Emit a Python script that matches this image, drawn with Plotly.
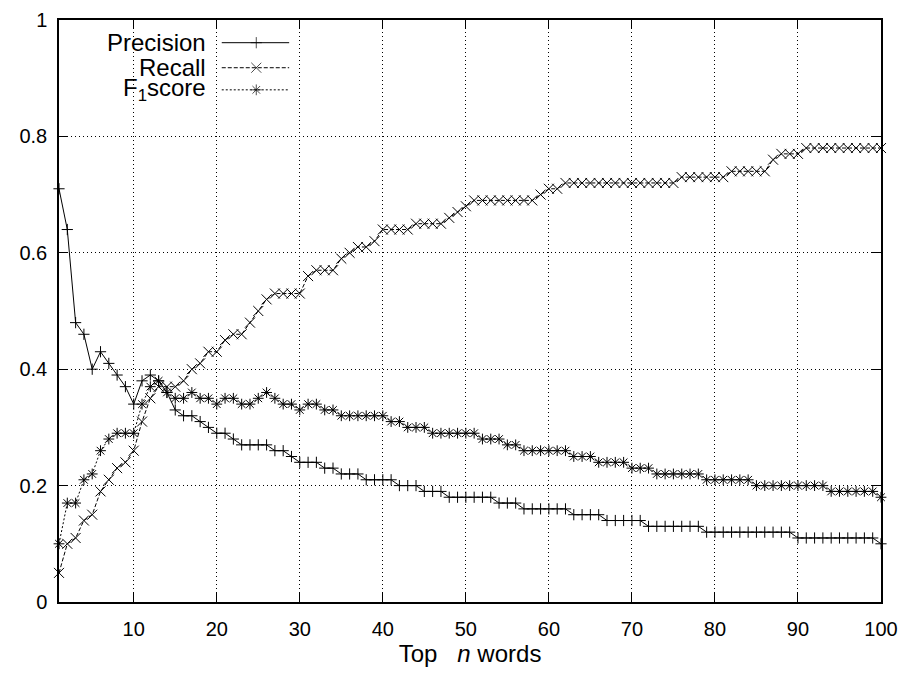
import plotly.graph_objects as go

# ---------------- data ----------------
n_words = list(range(1, 101))

precision = [
    0.71, 0.64, 0.48, 0.46, 0.40, 0.43, 0.41, 0.39, 0.37, 0.34,
    0.38, 0.39, 0.38, 0.36, 0.33, 0.32, 0.32, 0.31, 0.30, 0.29,
    0.29, 0.28, 0.27, 0.27, 0.27, 0.27, 0.26, 0.26, 0.25, 0.24,
    0.24, 0.24, 0.23, 0.23, 0.22, 0.22, 0.22, 0.21, 0.21, 0.21,
    0.21, 0.20, 0.20, 0.20, 0.19, 0.19, 0.19, 0.18, 0.18, 0.18,
    0.18, 0.18, 0.18, 0.17, 0.17, 0.17, 0.16, 0.16, 0.16, 0.16,
    0.16, 0.16, 0.15, 0.15, 0.15, 0.15, 0.14, 0.14, 0.14, 0.14,
    0.14, 0.13, 0.13, 0.13, 0.13, 0.13, 0.13, 0.13, 0.12, 0.12,
    0.12, 0.12, 0.12, 0.12, 0.12, 0.12, 0.12, 0.12, 0.12, 0.11,
    0.11, 0.11, 0.11, 0.11, 0.11, 0.11, 0.11, 0.11, 0.11, 0.10,
]

recall = [
    0.05, 0.10, 0.11, 0.14, 0.15, 0.19, 0.21, 0.23, 0.24, 0.26,
    0.31, 0.35, 0.37, 0.37, 0.37, 0.38, 0.40, 0.41, 0.43, 0.43,
    0.45, 0.46, 0.46, 0.48, 0.50, 0.52, 0.53, 0.53, 0.53, 0.53,
    0.56, 0.57, 0.57, 0.57, 0.59, 0.60, 0.61, 0.61, 0.62, 0.64,
    0.64, 0.64, 0.64, 0.65, 0.65, 0.65, 0.65, 0.66, 0.67, 0.68,
    0.69, 0.69, 0.69, 0.69, 0.69, 0.69, 0.69, 0.69, 0.70, 0.71,
    0.71, 0.72, 0.72, 0.72, 0.72, 0.72, 0.72, 0.72, 0.72, 0.72,
    0.72, 0.72, 0.72, 0.72, 0.72, 0.73, 0.73, 0.73, 0.73, 0.73,
    0.73, 0.74, 0.74, 0.74, 0.74, 0.74, 0.76, 0.77, 0.77, 0.77,
    0.78, 0.78, 0.78, 0.78, 0.78, 0.78, 0.78, 0.78, 0.78, 0.78,
]

f1_score = [
    0.10, 0.17, 0.17, 0.21, 0.22, 0.26, 0.28, 0.29, 0.29, 0.29,
    0.34, 0.37, 0.38, 0.36, 0.35, 0.35, 0.36, 0.35, 0.35, 0.34,
    0.35, 0.35, 0.34, 0.34, 0.35, 0.36, 0.35, 0.34, 0.34, 0.33,
    0.34, 0.34, 0.33, 0.33, 0.32, 0.32, 0.32, 0.32, 0.32, 0.32,
    0.31, 0.31, 0.30, 0.30, 0.30, 0.29, 0.29, 0.29, 0.29, 0.29,
    0.29, 0.28, 0.28, 0.28, 0.27, 0.27, 0.26, 0.26, 0.26, 0.26,
    0.26, 0.26, 0.25, 0.25, 0.25, 0.24, 0.24, 0.24, 0.24, 0.23,
    0.23, 0.23, 0.22, 0.22, 0.22, 0.22, 0.22, 0.22, 0.21, 0.21,
    0.21, 0.21, 0.21, 0.21, 0.20, 0.20, 0.20, 0.20, 0.20, 0.20,
    0.20, 0.20, 0.20, 0.19, 0.19, 0.19, 0.19, 0.19, 0.19, 0.18,
]

x_tick_vals = [10, 20, 30, 40, 50, 60, 70, 80, 90, 100]
y_tick_vals = [0, 0.2, 0.4, 0.6, 0.8, 1]

series_names = ["Precision", "Recall", "F<sub>1</sub>score"]

# ---------------- styling ----------------
FONT = "Liberation Sans, Arial, Helvetica, sans-serif"
FS_TICK = 20
FS_TEXT = 24
styles = [
    dict(dash="solid", symbol="cross-thin-open", size=8),
    dict(dash="4px,2px", symbol="x-thin-open", size=10),
    dict(dash="2px,2px", symbol="asterisk-open", size=9),
]

fig = go.Figure()

for name, vals, st in zip(series_names, [precision, recall, f1_score], styles):
    fig.add_trace(go.Scatter(
        x=n_words, y=vals, mode="lines+markers", name=name,
        line=dict(color="black", width=1, dash=st["dash"]),
        marker=dict(symbol=st["symbol"], size=st["size"], color="black",
                    line=dict(color="black", width=1)),
        showlegend=False, cliponaxis=False,
    ))

# manual gnuplot-style key (text right-aligned, sample to the right)
key_rows_y = [0.961, 0.918, 0.880]
key_x0, key_xm, key_x1 = 0.198, 0.240, 0.280
key_text_x = 0.181
for name, st, ky in zip(series_names, styles, key_rows_y):
    fig.add_trace(go.Scatter(
        x=[key_x0, key_xm, key_x1], y=[ky, ky, ky], xaxis="x2", yaxis="y2",
        mode="lines+markers",
        line=dict(color="black", width=1, dash=st["dash"]),
        marker=dict(symbol=st["symbol"], size=[0, st["size"], 0], color="black",
                    line=dict(color="black", width=1)),
        showlegend=False, hoverinfo="skip",
    ))
    fig.add_annotation(
        x=key_text_x, y=ky, xref="x2", yref="y2", text=name,
        showarrow=False, xanchor="right", yanchor="middle",
        font=dict(family=FONT, size=FS_TEXT, color="black"),
    )

axis_common = dict(
    showline=True, linecolor="black", linewidth=1.5, mirror="allticks",
    ticks="inside", ticklen=9, tickwidth=1, tickcolor="black",
    showgrid=True, gridcolor="black", gridwidth=1, griddash="1px,3px",
    zeroline=False, automargin=False,
    tickfont=dict(family=FONT, size=FS_TICK, color="black"),
)

# the page body adds an 8px offset, so margins are shifted to compensate
fig.update_layout(
    width=907, height=678,
    paper_bgcolor="white", plot_bgcolor="white",
    margin=dict(l=51, r=34, t=12, b=84, autoexpand=False),
    font=dict(family=FONT, size=FS_TICK, color="black"),
    xaxis=dict(range=[1, 100], tickvals=x_tick_vals, ticklabelstandoff=8,
               title=dict(text="Top\u00a0\u00a0\u00a0<i>n</i>\u00a0words",
                          font=dict(family=FONT, size=FS_TEXT, color="black"),
                          standoff=6),
               **axis_common),
    yaxis=dict(range=[0, 1], tickvals=y_tick_vals, ticklabelstandoff=6,
               **axis_common),
    xaxis2=dict(overlaying="x", range=[0, 1], visible=False),
    yaxis2=dict(overlaying="y", range=[0, 1], visible=False),
)

fig.write_html("out.html")
